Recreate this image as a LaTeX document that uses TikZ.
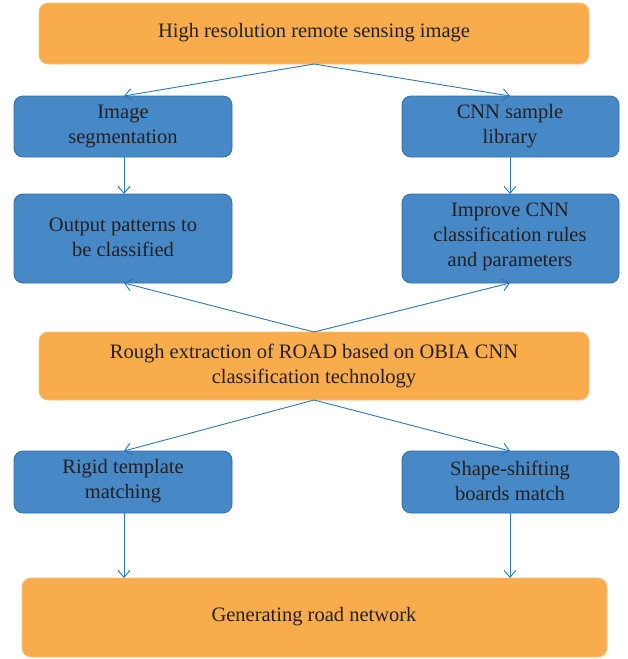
\documentclass[tikz,border=0pt]{standalone}
\usepackage{fontspec}
\setmainfont{Liberation Serif}
\usetikzlibrary{arrows.meta}
\definecolor{boxorange}{HTML}{F9AC4C}
\definecolor{edgeorange}{HTML}{F7C27F}
\definecolor{boxblue}{HTML}{4789C7}
\definecolor{edgeblue}{HTML}{2F6EA8}
\definecolor{linkblue}{HTML}{2E75B6}
\definecolor{ink}{HTML}{231F20}
\tikzset{
  orangebox/.style={draw=edgeorange, fill=boxorange, rounded corners=9pt, line width=0.8pt},
  bluebox/.style={draw=edgeblue, fill=boxblue, rounded corners=9pt, line width=0.8pt},
  label/.style={align=center, text=ink, font=\fontsize{20.5}{25}\selectfont},
  link/.style={draw=linkblue, line width=0.9pt, -{Straight Barb[length=7pt,width=12pt]}}
}
\begin{document}
\begin{tikzpicture}[x=1pt,y=-1pt]
\useasboundingbox (0,0) rectangle (627,659);
% boxes
\path[orangebox] (39,3) rectangle (589,64);
\node[label] (top) at (314,33) {High resolution remote sensing image};
\coordinate (topS) at (314,64);

\path[bluebox] (14,96) rectangle (232,157);
\node[label] (seg) at (123,126) {Image\\segmentation};
\coordinate (segN) at (124,96);
\coordinate (segS) at (124,157);

\path[bluebox] (402,96) rectangle (619,157);
\node[label] (lib) at (510,126) {CNN sample\\library};
\coordinate (libN) at (510,96);
\coordinate (libS) at (510,157);

\path[bluebox] (14,194) rectangle (232,283);
\node[label] (out) at (123,237) {Output patterns to\\be classified};
\coordinate (outN) at (124,194);
\coordinate (outS) at (124,283);

\path[bluebox] (402,194) rectangle (619,283);
\node[label] (imp) at (510,237) {Improve CNN\\classification rules\\and parameters};
\coordinate (impN) at (510,194);
\coordinate (impS) at (510,283);

\path[orangebox] (39,332) rectangle (589,400);
\node[label] (rough) at (314,366) {Rough extraction of ROAD based on OBIA CNN\\classification technology};
\coordinate (roughN) at (314,332);
\coordinate (roughS) at (314,400);

\path[bluebox] (14,451) rectangle (232,513);
\node[label] (rigid) at (123,481) {Rigid template\\matching};
\coordinate (rigidN) at (124,451);
\coordinate (rigidS) at (124,513);

\path[bluebox] (402,451) rectangle (619,513);
\node[label] (shape) at (510,481) {Shape-shifting\\boards match};
\coordinate (shapeN) at (510,451);
\coordinate (shapeS) at (510,513);

\path[orangebox] (22,578) rectangle (607,657);
\node[label] (gen) at (314,617) {Generating road network};
\coordinate (genL) at (124,578);
\coordinate (genR) at (510,578);

% connectors
\draw[link] (topS) -- (segN);
\draw[link] (topS) -- (libN);
\draw[link] (segS) -- (outN);
\draw[link] (libS) -- (impN);
\draw[link] (roughN) -- (outS);
\draw[link] (roughN) -- (impS);
\draw[link] (roughS) -- (rigidN);
\draw[link] (roughS) -- (shapeN);
\draw[link] (rigidS) -- (genL);
\draw[link] (shapeS) -- (genR);
\end{tikzpicture}
\end{document}
